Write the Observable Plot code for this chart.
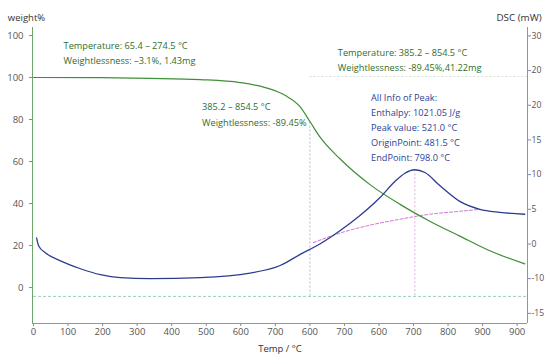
<!DOCTYPE html>
<html><head><meta charset="utf-8">
<script src="https://cdn.jsdelivr.net/npm/d3@7"></script>
<script src="https://cdn.jsdelivr.net/npm/@observablehq/plot@0.6"></script>
<style>body{margin:0;background:#fff;font-family:"Open Sans",sans-serif}</style>
</head><body><div id="chart"></div>
<script>
// Axis ticks (positions in axis units, labels as printed)
const xTickValues = [0,100,200,300,400,500,600,700,800,900,1000,1100,1200,1300,1400];
const xTickLabels = ["0","100","200","300","400","500","600","700","600","700","600","700","800","900","900"];
const wTickValues = [0,20,40,60,80,100,120];
const wTickLabels = ["0","20","40","60","80","100","100"];
const dscTickValues = [-10,-5,0,5,10,15,20,25,30];
const dscTickLabels = ["-15","-10","0","5","10","15","20","20","30"];

// TG curve (weight %)
const tgTemp   = [0,194,338,483,598,671,728,772,801,829,887,974,1061,1147,1234,1321,1422];
const tgWeight = [100,99.9,99.6,99.0,97.6,95.2,91.5,86.0,78.8,71.7,61.3,49,39.6,31.6,24.5,17.5,11.3];

// DSC curve (mW)
const dscTemp  = [9,15,35,78,136,194,251,338,483,627,714,772,829,887,945,1003,1046,1075,1104,1133,1176,1234,1292,1350,1422];
const dscValue = [0.86,-0.29,-1.29,-2.43,-3.57,-4.43,-4.86,-5.0,-4.86,-4.2,-3.1,-1.5,0.0,1.9,4.1,6.7,9.0,10.2,10.7,10.3,8.43,6.14,5.0,4.57,4.29];

// Peak baseline (mW)
const baseTemp  = [810,887,974,1061,1147,1234,1292];
const baseValue = [0.2,1.57,2.71,3.57,4.29,4.71,5.0];

// Reference lines
const onsetTemp = [800];
const onsetWeight = [78.8];
const peakTemp = [1104];
const peakDsc = [10.7];
const refWeightTop = [100.5];
const refWeightBottom = [-4.2];

const dscToW = d3.scaleLinear().domain([0, 30]).range([20.75, 119.8]);

const tg = tgTemp.map((t,i)=>({t, w: tgWeight[i]}));
const dsc = dscTemp.map((t,i)=>({t, w: dscToW(dscValue[i])}));
const base = baseTemp.map((t,i)=>({t, w: dscToW(baseValue[i])}));

const X0 = -3, X1 = 1430, Y0 = -17.1, Y1 = 123.8;
const green = "#3f8f37", blue = "#2c3d8f", txtGreen = "#2f6e2a", txtBlue = "#2d3f95";
const fs = 9.2;

const chart = Plot.plot({
  width: 545, height: 354,
  marginLeft: 32, marginRight: 18, marginTop: 27, marginBottom: 31,
  style: {fontFamily: "'Open Sans', sans-serif", fontSize: "9.5px", color: "#555", background: "#fff"},
  x: {domain: [X0, X1]},
  y: {domain: [Y0, Y1]},
  marks: [
    // reference lines
    Plot.ruleY(refWeightBottom, {x1: 0, x2: X1, stroke: "#7cc0b8", strokeDasharray: "3,2", strokeWidth: 0.8}),
    Plot.ruleY(refWeightTop, {x1: onsetTemp[0], x2: X1, stroke: "#c8d8c8", strokeDasharray: "2,2", strokeWidth: 0.8}),
    Plot.ruleX(onsetTemp, {y1: onsetWeight[0], y2: refWeightBottom[0], stroke: "#a9a3c6", strokeDasharray: "2,2", strokeWidth: 0.8}),
    Plot.ruleX(peakTemp, {y1: dscToW(peakDsc[0]), y2: refWeightBottom[0], stroke: "#d59ad6", strokeDasharray: "2,2", strokeWidth: 0.8}),
    // baseline
    Plot.line(base, {x: "t", y: "w", curve: "monotone-x", stroke: "#d46fd8", strokeDasharray: "3,2", strokeWidth: 1}),
    // curves
    Plot.line(tg, {x: "t", y: "w", curve: "monotone-x", stroke: green, strokeWidth: 1.2}),
    Plot.line(dsc, {x: "t", y: "w", curve: "monotone-x", stroke: blue, strokeWidth: 1.3}),
    // axes
    Plot.axisX({ticks: xTickValues, tickFormat: (d,i)=>xTickLabels[i], tickSize: 3, tickPadding: 2, stroke: "#888", label: null, fill: "#555"}),
    Plot.axisY({ticks: wTickValues, tickFormat: (d,i)=>wTickLabels[i], tickSize: 3, stroke: "#888", label: null, fill: "#555", anchor: "left"}),
    Plot.axisY({anchor: "right", ticks: dscTickValues.map(dscToW), tickFormat: (d,i)=>dscTickLabels[i], tickSize: 3, tickPadding: 1, fontSize: 8.6, stroke: "#7f84c4", label: null, fill: "#555"}),
    Plot.ruleX([X0], {stroke: "#6da56a", strokeWidth: 1}),
    Plot.ruleX([X1], {stroke: "#8a8fd0", strokeWidth: 1}),
    Plot.ruleY([Y0], {stroke: "#8d96aa", strokeWidth: 1}),
    // axis titles
    Plot.text(["weight%"], {frameAnchor: "top-left", dx: -6, dy: -13, textAnchor: "middle", fill: "#333", fontSize: 9.5}),
    Plot.text(["DSC (mW)"], {frameAnchor: "top-right", dx: -31, dy: -13, textAnchor: "start", fill: "#333", fontSize: 9.8}),
    Plot.text(["Temp / °C"], {frameAnchor: "bottom", dy: 28, fill: "#333", fontSize: 9.5}),
    // annotations
    Plot.text(["Temperature: 65.4 – 274.5 °C", "Weightlessness: –3.1%, 1.43mg"], {x: 87, y: (d,i)=>[115,108][i], textAnchor: "start", fill: txtGreen, fontSize: fs}),
    Plot.text(["Temperature: 385.2 – 854.5 °C", "Weightlessness: -89.45%,41.22mg"], {x: 881, y: (d,i)=>[111.7,104.5][i], textAnchor: "start", fill: txtGreen, fontSize: fs}),
    Plot.text(["385.2 – 854.5 °C", "Weightlessness: -89.45%"], {x: 488, y: (d,i)=>[85.8,78.3][i], textAnchor: "start", fill: txtGreen, fontSize: fs}),
    Plot.text(["All Info of Peak:", "Enthalpy: 1021.05 J/g", "Peak value: 521.0 °C", "OriginPoint: 481.5 °C", "EndPoint: 798.0 °C"], {x: 977, y: (d,i)=>[90.1,83.0,76.0,68.9,61.8][i], textAnchor: "start", fill: txtBlue, fontSize: fs})
  ]
});
document.getElementById("chart").appendChild(chart);
</script></body></html>
